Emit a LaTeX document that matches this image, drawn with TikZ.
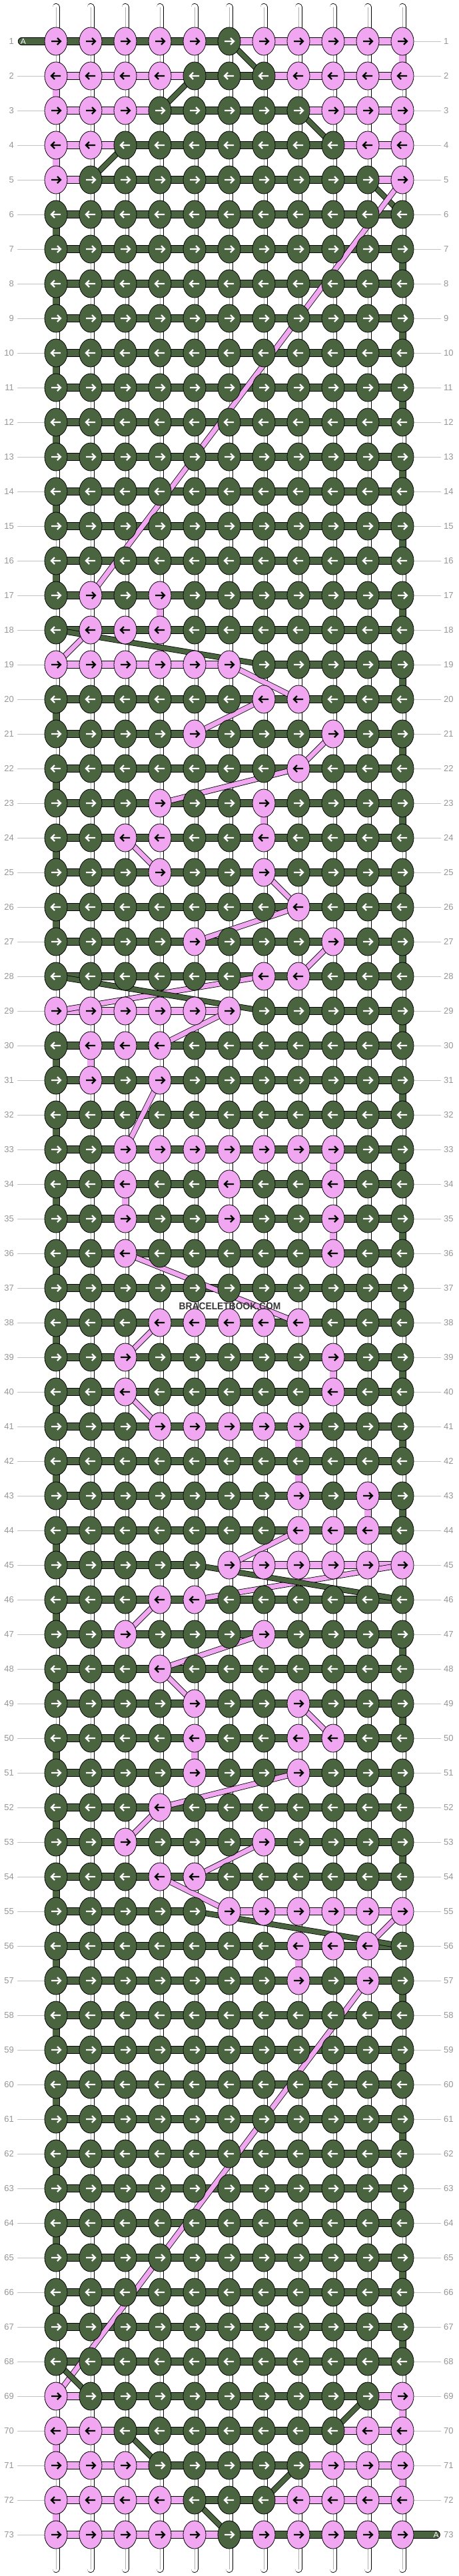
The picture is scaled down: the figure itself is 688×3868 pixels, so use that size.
\documentclass[tikz,border=0pt]{standalone}
\usepackage{fontspec}
\newfontfamily\labfont{Liberation Sans}
\usetikzlibrary{shapes.geometric}
\pgfdeclarelayer{bg}
\pgfsetlayers{bg,main}
\definecolor{gr}{RGB}{74,100,64}
\definecolor{pk}{RGB}{240,166,240}
\definecolor{labgray}{RGB}{150,150,150}
\definecolor{lingray}{RGB}{195,195,195}
\definecolor{strgray}{RGB}{175,175,175}
\definecolor{wmk}{RGB}{55,55,55}
\def\KA{GGGGGGGGGGG}
\def\HA{GGGGGGGGGG}
\def\VW{WWWWWWWWWWW}
\def\VE{GWWWWWWWWWW}
\def\VO{WWWWWWWWWWG}
\def\KnArrow#1{%
 \ifodd\KnR\relax
  \draw[#1,line width=2.2pt,line join=miter] ([xshift=-7pt]path picture bounding box.center) -- ([xshift=6.5pt]path picture bounding box.center)
   ([xshift=2pt,yshift=5pt]path picture bounding box.center) -- ([xshift=7pt]path picture bounding box.center) -- ([xshift=2pt,yshift=-5pt]path picture bounding box.center);
 \else
  \draw[#1,line width=2.2pt,line join=miter] ([xshift=7pt]path picture bounding box.center) -- ([xshift=-6.5pt]path picture bounding box.center)
   ([xshift=-2pt,yshift=5pt]path picture bounding box.center) -- ([xshift=-7pt]path picture bounding box.center) -- ([xshift=-2pt,yshift=-5pt]path picture bounding box.center);
 \fi}
% knots
\def\KnRowK#1#2{\edef\KnR{#1}\def\KnC{0}\edef\KnS{#2}\expandafter\KnParseK\KnS\relax}
\def\KnParseK#1{\ifx#1\relax\let\KnNext\relax\else\def\KnNext{\KnOneK#1\KnParseK}\fi\KnNext}
\def\KnOneK#1{\node[knot#1] (k-\KnR-\KnC) at ({84+52*\KnC},{62+52*(\KnR-1)}) {};\pgfmathtruncatemacro\KnC{\KnC+1}}
% horizontal bars
\def\KnRowH#1#2{\edef\KnR{#1}\def\KnC{0}\edef\KnS{#2}\expandafter\KnParseH\KnS\relax}
\def\KnParseH#1{\ifx#1\relax\let\KnNext\relax\else\def\KnNext{\KnOneH#1\KnParseH}\fi\KnNext}
\def\KnOneH#1{\pgfmathtruncatemacro\KnD{\KnC+1}\ifx#1N\else\draw[bar#1] (k-\KnR-\KnC.center) -- (k-\KnR-\KnD.center);\fi\pgfmathtruncatemacro\KnC{\KnC+1}}
% vertical bars
\def\KnRowV#1#2{\edef\KnR{#1}\def\KnC{0}\edef\KnS{#2}\expandafter\KnParseV\KnS\relax}
\def\KnParseV#1{\ifx#1\relax\let\KnNext\relax\else\def\KnNext{\KnOneV#1\KnParseV}\fi\KnNext}
\def\KnOneV#1{\pgfmathtruncatemacro\KnD{\KnR+1}\draw[vbar#1] (k-\KnR-\KnC.center) -- (k-\KnD-\KnC.center);\ifx#1W\draw[vline] (k-\KnR-\KnC.center) -- (k-\KnD-\KnC.center);\fi\pgfmathtruncatemacro\KnC{\KnC+1}}
\begin{document}
\begin{tikzpicture}[x=1pt,y=-1pt,
 knotbase/.style={ellipse, draw=black, line width=0.8pt, minimum width=34pt, minimum height=42pt, inner sep=0pt, outer sep=0pt},
 knotP/.style={knotbase, fill=pk, path picture={\KnArrow{black}}},
 knotG/.style={knotbase, fill=gr, path picture={\KnArrow{white}}},
 barbase/.style={line width=0.8pt, draw=black, double distance=10pt},
 barG/.style={barbase, double=gr},
 barP/.style={barbase, double=pk},
 vbase/.style={line width=0.8pt, draw=black, double distance=9.4pt},
 vbarW/.style={vbase, double=white},
 vbarP/.style={vbase, double=pk},
 vbarG/.style={vbase, double=gr},
 vline/.style={draw=strgray, line width=0.8pt},
 diagbase/.style={line width=0.8pt, draw=black, double distance=7pt},
 labL/.style={font=\labfont\fontsize{13}{13}\selectfont, text=labgray, anchor=east, inner sep=0pt},
 labR/.style={font=\labfont\fontsize{13}{13}\selectfont, text=labgray, anchor=west, inner sep=0pt},
 labline/.style={draw=lingray, line width=1pt},
 atxt/.style={font=\labfont\fontsize{12}{12}\selectfont, text=white, inner sep=0pt},
 wm/.style={font=\labfont\bfseries\fontsize{15}{15}\selectfont, text=wmk, inner sep=0pt, xscale=0.92}
]
\useasboundingbox (0,0) rectangle (688,3868);
% ---------- knots ----------
\foreach \r/\s in {1/PPPPPGPPPPP,2/PPPPGGGPPPP,3/PPPGGGGGPPP,4/PPGGGGGGGPP,5/PGGGGGGGGGP,
 6/\KA,7/\KA,8/\KA,9/\KA,10/\KA,11/\KA,12/\KA,13/\KA,14/\KA,15/\KA,16/\KA,
 17/GPGPGGGGGGG,18/GPPPGGGGGGG,19/PPPPPPGGGGG,20/GGGGGGPPGGG,21/GGGGPGGGPGG,
 22/GGGGGGGPGGG,23/GGGPGGPGGGG,24/GGPPGGPGGGG,25/GGGPGGPGGGG,26/GGGGGGGPGGG,
 27/GGGGPGGGPGG,28/GGGGGGPPGGG,29/PPPPPPGGGGG,30/GPPPGGGGGGG,31/GPGPGGGGGGG,
 32/\KA,33/GGPPPPPPPGG,34/GGPGGPGGPGG,35/GGPGGPGGPGG,36/GGPGGGGGPGG,37/\KA,
 38/GGGPPPPPGGG,39/GGPGGGGGPGG,40/GGPGGGGGPGG,41/GGGPPPPPGGG,42/\KA,
 43/GGGGGGGPGPG,44/GGGGGGGPPPG,45/GGGGGPPPPPP,46/GGGPPGGGGGG,47/GGPGGGPGGGG,
 48/GGGPGGGGGGG,49/GGGGPGGPGGG,50/GGGGPGGPPGG,51/GGGGPGGPGGG,52/GGGPGGGGGGG,
 53/GGPGGGPGGGG,54/GGGPPGGGGGG,55/GGGGGPPPPPP,56/GGGGGGGPPPG,57/GGGGGGGPGPG,
 58/\KA,59/\KA,60/\KA,61/\KA,62/\KA,63/\KA,64/\KA,65/\KA,66/\KA,67/\KA,68/\KA,
 69/PGGGGGGGGGP,70/PPGGGGGGGPP,71/PPPGGGGGPPP,72/PPPPGGGPPPP,73/PPPPPGPPPPP}
 {\KnRowK{\r}{\s}}
% string ends
\foreach \c in {0,...,10}{
 \coordinate (ts-\c) at ({84+52*\c},10.5);
 \coordinate (bs-\c) at ({84+52*\c},3857.5);
}
\coordinate (aL) at (32.7,62);
\coordinate (aR) at (655,3806);
% labels
\foreach \r in {1,...,73}{
 \node[labL] (ll-\r) at (21,{62+52*(\r-1)}) {\r};
 \node[labR] (lr-\r) at (666,{62+52*(\r-1)}) {\r};
}
\begin{pgfonlayer}{bg}
\fill[white] (0,0) rectangle (688,3868);
\foreach \r in {2,...,73} \draw[labline] ([xshift=5pt]ll-\r.east) -- (k-\r-0.west);
\foreach \r in {1,...,72} \draw[labline] (k-\r-10.east) -- ([xshift=-4pt]lr-\r.west);
\foreach \c in {0,...,10}{
 \draw[vbarW,line cap=round] (ts-\c) -- (k-1-\c.center);
 \draw[vline] (ts-\c) -- (k-1-\c.center);
 \draw[vbarW,line cap=round] (k-73-\c.center) -- (bs-\c);
 \draw[vline] (k-73-\c.center) -- (bs-\c);
}
% vertical bars
\foreach \r/\s in {1/WWWWWWWWWWP,2/PWWWWWWWWWW,3/WWWWWWWWWWP,4/PWWWWWWWWWW,5/\VW,
 6/\VE,7/\VO,8/\VE,9/\VO,10/\VE,11/\VO,12/\VE,13/\VO,14/\VE,15/\VO,16/\VE,
 17/WWWPWWWWWWG,18/\VW,19/\VO,20/\VE,21/\VO,22/\VE,23/WWWWWWPWWWG,
 24/\VE,25/\VO,26/\VE,27/\VO,28/\VW,29/\VO,30/GPWWWWWWWWW,31/\VO,32/\VE,
 33/WWWWWWWWPWG,34/GWPWWWWWWWW,35/WWWWWWWWPWG,36/\VE,37/\VO,38/\VE,
 39/WWWWWWWWPWG,40/\VE,41/WWWWWWWPWWG,42/GWWWWWWPWWW,43/WWWWWWWWWPG,44/\VE,
 45/\VW,46/\VE,47/\VO,48/\VE,49/\VO,50/GWWWPWWWWWW,51/\VO,52/\VE,53/\VO,54/\VE,
 55/\VW,56/GWWWWWWPWWW,57/\VO,58/\VE,59/\VO,60/\VE,61/\VO,62/\VE,63/\VO,64/\VE,
 65/\VO,66/\VE,67/\VO,68/\VW,69/WWWWWWWWWWP,70/PWWWWWWWWWW,71/WWWWWWWWWWP,72/PWWWWWWWWWW}
 {\KnRowV{\r}{\s}}
% horizontal bars
\foreach \r/\s in {1/GGGGGPPPPP,2/PPPPGGPPPP,3/PPPGGGGPPP,4/PPGGGGGGPP,5/PGGGGGGGGP,
 6/\HA,7/\HA,8/\HA,9/\HA,10/\HA,11/\HA,12/\HA,13/\HA,14/\HA,15/\HA,16/\HA,17/\HA,18/\HA,
 19/PPPPPNGGGG,20/\HA,21/\HA,22/\HA,23/\HA,24/\HA,25/\HA,26/\HA,27/\HA,28/\HA,
 29/PPPPPNGGGG,30/\HA,31/\HA,32/\HA,33/\HA,34/\HA,35/\HA,36/\HA,37/\HA,38/\HA,
 39/\HA,40/\HA,41/\HA,42/\HA,43/\HA,44/\HA,45/GGGGNPPPPP,46/\HA,47/\HA,48/\HA,
 49/\HA,50/\HA,51/\HA,52/\HA,53/\HA,54/\HA,55/GGGGNPPPPP,56/\HA,57/\HA,58/\HA,
 59/\HA,60/\HA,61/\HA,62/\HA,63/\HA,64/\HA,65/\HA,66/\HA,67/\HA,68/\HA,
 69/PGGGGGGGGP,70/PPGGGGGGPP,71/PPPGGGGPPP,72/PPPPGGPPPP,73/PPPPPGGGGG}
 {\KnRowH{\r}{\s}}
% A strands
\draw[barG,line cap=round] (aL) -- (k-1-0.center);
\draw[barG,line cap=round] (k-73-10.center) -- (aR);
% diagonals
\foreach \cl/\ra/\ca/\rb/\cb in {gr/1/5/2/6,gr/2/4/3/3,gr/3/7/4/8,gr/4/2/5/1,gr/5/9/6/10,
 pk/5/10/17/1,pk/18/1/19/0,gr/18/0/19/6,pk/19/5/20/7,pk/20/6/21/4,pk/21/8/22/7,pk/22/7/23/3,
 pk/24/2/25/3,pk/25/6/26/7,pk/26/7/27/4,pk/27/8/28/7,pk/28/6/29/0,gr/28/0/29/6,pk/29/5/30/3,
 pk/31/3/33/2,pk/36/2/38/7,pk/38/3/39/2,pk/40/2/41/3,pk/44/7/45/5,pk/45/10/46/4,gr/45/4/46/10,
 pk/46/3/47/2,pk/47/6/48/3,pk/48/3/49/4,pk/49/7/50/8,pk/51/7/52/3,pk/52/3/53/2,pk/53/6/54/4,
 pk/54/3/55/5,pk/55/10/56/9,gr/55/4/56/10,pk/57/9/69/0,gr/68/0/69/1,gr/69/9/70/8,
 gr/70/2/71/3,gr/71/7/72/6,gr/72/4/73/5}
 {\draw[diagbase,double=\cl] (k-\ra-\ca.center) -- (k-\rb-\cb.center);}
\end{pgfonlayer}
\node[atxt] (aLt) at (35,62) {A};
\node[atxt] (aRt) at (654.5,3806) {A};
\node[wm] (wmark) at (345,1961) {BRACELETBOOK.COM};
\end{tikzpicture}
\end{document}
